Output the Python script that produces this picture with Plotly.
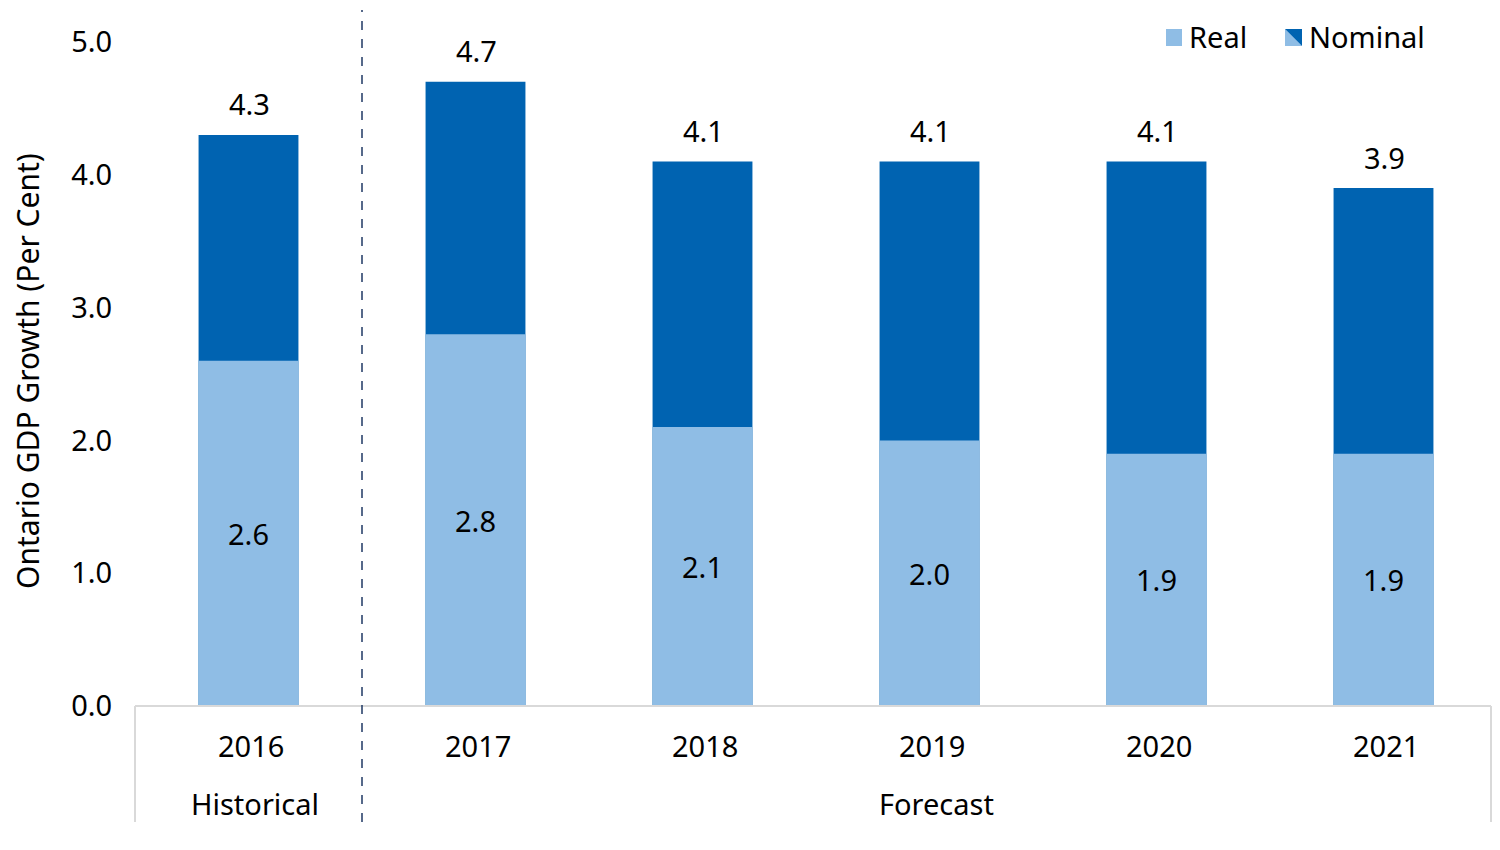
import plotly.graph_objects as go

years = ["2016", "2017", "2018", "2019", "2020", "2021"]
real = [2.6, 2.8, 2.1, 2.0, 1.9, 1.9]
nominal = [4.3, 4.7, 4.1, 4.1, 4.1, 3.9]
groups = ["Historical", "Forecast"]
y_ticks = [0, 1, 2, 3, 4, 5]

REAL_C = "#8FBDE5"
NOM_C = "#0063B1"
FONT = "Noto Sans"
FS = 29

OFF = 8  # page body margin offset
W, H = 1500 - 2 * OFF, 850 - 2 * OFF
L, T = 135 - OFF, 42 - OFF
RIGHT_PX = 1491           # screen x of plot right edge
R = W - (RIGHT_PX - OFF)
B = H - (706 - OFF)
PW, PH = W - L - R, H - T - B
CAT_W = 227.0
X_MAX = -0.5 + PW / CAT_W


def xp(px):
    return (px - OFF - L) / PW


def yp(py):
    return (H - B - (py - OFF)) / PH


xs = list(range(len(years)))

fig = go.Figure()
fig.add_trace(go.Bar(
    x=xs, y=nominal, marker=dict(color=NOM_C, line=dict(width=0)), width=0.44,
    showlegend=False, name="Nominal", hoverinfo="skip"))
fig.add_trace(go.Bar(
    x=xs, y=real, marker=dict(color=REAL_C, line=dict(width=0)), width=0.44,
    text=[f"{v:.1f}" for v in real], textposition="inside", insidetextanchor="middle",
    textfont=dict(size=FS, color="black"), showlegend=False, name="Real"))

shapes = []
shapes.append(dict(type="line", xref="paper", yref="paper", x0=0, x1=1, y0=0, y1=0,
                   line=dict(color="#D9D9D9", width=2)))
for xv in (0, 1):
    shapes.append(dict(type="line", xref="paper", yref="paper", x0=xv, x1=xv,
                       y0=0, y1=yp(822), line=dict(color="#D9D9D9", width=2)))
shapes.append(dict(type="line", xref="x", yref="paper", x0=0.5, x1=0.5,
                   y0=yp(822), y1=yp(10), line=dict(color="#1F3864", width=1.5, dash="dash")))
shapes.append(dict(type="rect", xref="paper", yref="paper", x0=xp(1166), x1=xp(1182),
                   y0=yp(46), y1=yp(29), fillcolor=REAL_C, line=dict(width=0)))
shapes.append(dict(type="path", xref="paper", yref="paper",
                   path=f"M {xp(1285)} {yp(29)} L {xp(1285)} {yp(46)} L {xp(1302)} {yp(46)} Z",
                   fillcolor=REAL_C, line=dict(width=0)))
shapes.append(dict(type="path", xref="paper", yref="paper",
                   path=f"M {xp(1285)} {yp(29)} L {xp(1302)} {yp(29)} L {xp(1302)} {yp(46)} Z",
                   fillcolor=NOM_C, line=dict(width=0)))

annotations = []
for i, v in enumerate(nominal):
    annotations.append(dict(x=i, y=v, xref="x", yref="y", text=f"{v:.1f}",
                            showarrow=False, font=dict(size=FS, color="black"),
                            xanchor="center", yanchor="middle", yshift=31, xshift=1))
for i, yr in enumerate(years):
    annotations.append(dict(x=i, y=yp(745), xref="x", yref="paper", text=yr,
                            showarrow=False, font=dict(size=FS, color="black"),
                            xanchor="center", yanchor="middle", xshift=2))
annotations.append(dict(x=0, y=yp(803), xref="x", yref="paper", text=groups[0],
                        showarrow=False, font=dict(size=FS, color="black"),
                        xanchor="center", yanchor="middle", xshift=6))
annotations.append(dict(x=3, y=yp(803), xref="x", yref="paper", text=groups[1],
                        showarrow=False, font=dict(size=FS, color="black"),
                        xanchor="center", yanchor="middle", xshift=7))
annotations.append(dict(x=xp(27), y=yp(371), xref="paper", yref="paper",
                        text="Ontario GDP Growth (Per Cent)", textangle=-90,
                        showarrow=False, font=dict(size=30, color="black"),
                        xanchor="center", yanchor="middle"))
annotations.append(dict(x=xp(1187), y=yp(37), xref="paper", yref="paper", text="Real",
                        showarrow=False, font=dict(size=FS, color="black"),
                        xanchor="left", yanchor="middle"))
annotations.append(dict(x=xp(1307), y=yp(37), xref="paper", yref="paper", text="Nominal",
                        showarrow=False, font=dict(size=FS, color="black"),
                        xanchor="left", yanchor="middle"))

fig.update_layout(
    width=W, height=H, barmode="overlay",
    margin=dict(l=L, r=R, t=T, b=B),
    paper_bgcolor="white", plot_bgcolor="white",
    font=dict(family=FONT, size=FS, color="black"),
    shapes=shapes, annotations=annotations,
    xaxis=dict(range=[-0.5, X_MAX], showticklabels=False, showgrid=False, zeroline=False,
               showline=False, ticks=""),
    yaxis=dict(range=[0, 5], tickvals=y_ticks, ticktext=[f"{v:.1f}" for v in y_ticks],
               showgrid=False, zeroline=False, showline=False, ticks="outside",
               ticklen=16, tickcolor="rgba(0,0,0,0)", tickfont=dict(size=FS)),
    uniformtext=dict(mode=False),
)

fig.write_html("out.html")
